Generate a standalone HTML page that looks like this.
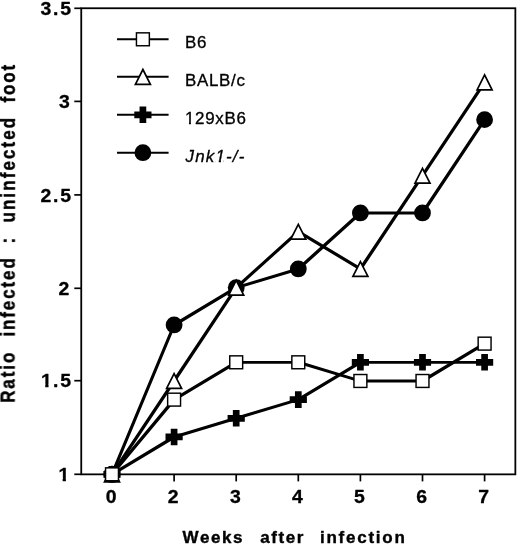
<!DOCTYPE html>
<html lang="en"><head><meta charset="utf-8"><title>Ratio infected : uninfected foot</title>
<style>
html,body{margin:0;padding:0;background:#fff;}
body{width:520px;height:545px;overflow:hidden;}
svg{display:block;will-change:transform;}
text{font-family:"Liberation Sans",sans-serif;fill:#000;stroke:#000;stroke-linejoin:round;}
.t{font-weight:bold;font-size:17.5px;stroke-width:0.3px;}
.l{font-size:16.3px;stroke-width:0.32px;letter-spacing:0.68px;}
.ax{font-weight:bold;font-size:17px;stroke-width:0.4px;letter-spacing:1.55px;}
.ay{font-weight:bold;font-size:17px;stroke-width:0.4px;letter-spacing:1.9px;}
</style></head><body>
<svg width="520" height="545" viewBox="0 0 520 545">
<rect x="0" y="0" width="520" height="545" fill="#fff"/>
<defs>
<clipPath id="c1b"><rect x="-3" y="-22" width="50" height="19.3"/><rect x="3.85" y="-22" width="2.9" height="26"/><rect x="10.8" y="-22" width="40" height="26"/></clipPath>
<clipPath id="c1r"><rect x="-3" y="-22" width="80" height="20.0"/><rect x="3.9" y="-22" width="1.85" height="26"/><rect x="8.8" y="-22" width="70" height="26"/></clipPath>
<clipPath id="c1i"><rect x="-3" y="-22" width="80" height="20.0"/><rect x="-3" y="-22" width="32.1" height="26"/><rect x="31.9" y="-22" width="2.1" height="26"/><rect x="36.6" y="-22" width="40" height="26"/></clipPath>
</defs>
<g opacity="0.999">

<rect x="81.25" y="8.25" width="434.1" height="466.1" fill="none" stroke="#000" stroke-width="1.8"/>
<line x1="74.3" y1="474.3" x2="81.25" y2="474.3" stroke="#000" stroke-width="1.7"/>
<line x1="74.3" y1="380.7" x2="81.25" y2="380.7" stroke="#000" stroke-width="1.7"/>
<line x1="74.3" y1="288.3" x2="81.25" y2="288.3" stroke="#000" stroke-width="1.7"/>
<line x1="74.3" y1="194.9" x2="81.25" y2="194.9" stroke="#000" stroke-width="1.7"/>
<line x1="74.3" y1="101.4" x2="81.25" y2="101.4" stroke="#000" stroke-width="1.7"/>
<line x1="74.3" y1="8.3" x2="81.25" y2="8.3" stroke="#000" stroke-width="1.7"/>
<line x1="112.0" y1="474.3" x2="112.0" y2="481.4" stroke="#000" stroke-width="1.7"/>
<line x1="174.1" y1="474.3" x2="174.1" y2="481.4" stroke="#000" stroke-width="1.7"/>
<line x1="236.2" y1="474.3" x2="236.2" y2="481.4" stroke="#000" stroke-width="1.7"/>
<line x1="298.3" y1="474.3" x2="298.3" y2="481.4" stroke="#000" stroke-width="1.7"/>
<line x1="360.4" y1="474.3" x2="360.4" y2="481.4" stroke="#000" stroke-width="1.7"/>
<line x1="422.5" y1="474.3" x2="422.5" y2="481.4" stroke="#000" stroke-width="1.7"/>
<line x1="484.6" y1="474.3" x2="484.6" y2="481.4" stroke="#000" stroke-width="1.7"/>
<text class="t" transform="translate(58.4,480.9) scale(1.11,1)" x="0" y="0" clip-path="url(#c1b)">1</text>
<text class="t" transform="translate(41.0,387.3) scale(1.11,1)" x="0.00 10.72 17.30" y="0" clip-path="url(#c1b)">1.5</text>
<text class="t" transform="translate(58.4,294.9) scale(1.11,1)" x="0" y="0">2</text>
<text class="t" transform="translate(40.4,201.5) scale(1.11,1)" x="0.00 11.26 17.84" y="0">2.5</text>
<text class="t" transform="translate(58.9,108.0) scale(1.11,1)" x="0" y="0">3</text>
<text class="t" transform="translate(40.4,14.9) scale(1.11,1)" x="0.00 11.26 17.84" y="0">3.5</text>
<text class="t" transform="scale(1.11,1)" x="100.09" y="503.2" text-anchor="middle">0</text>
<text class="t" transform="scale(1.11,1)" x="156.04" y="503.2" text-anchor="middle">2</text>
<text class="t" transform="scale(1.11,1)" x="211.98" y="503.2" text-anchor="middle">3</text>
<text class="t" transform="scale(1.11,1)" x="267.93" y="503.2" text-anchor="middle">4</text>
<text class="t" transform="scale(1.11,1)" x="323.87" y="503.2" text-anchor="middle">5</text>
<text class="t" transform="scale(1.11,1)" x="379.82" y="503.2" text-anchor="middle">6</text>
<text class="t" transform="scale(1.11,1)" x="435.77" y="503.2" text-anchor="middle">7</text>
<text class="ax" y="543.1"><tspan x="182.6">Weeks</tspan> <tspan x="260.3">after</tspan> <tspan x="320.0" style="letter-spacing:1.75px">infection</tspan></text>
<text class="ay" transform="translate(15.25,0) rotate(-89.93) scale(1,1.135)" y="0"><tspan x="-402.8">Ratio</tspan> <tspan x="-336.6">infected</tspan> <tspan x="-243.4">:</tspan> <tspan x="-222.6" style="letter-spacing:2.1px">uninfected</tspan> <tspan x="-102.6">foot</tspan></text>
<line x1="112.0" y1="474.3" x2="174.1" y2="325.0" stroke="#000" stroke-width="3.14" stroke-linecap="round"/>
<line x1="174.1" y1="325.0" x2="236.2" y2="287.6" stroke="#000" stroke-width="3.22" stroke-linecap="round"/>
<line x1="236.2" y1="287.6" x2="298.3" y2="269.0" stroke="#000" stroke-width="3.06" stroke-linecap="round"/>
<line x1="298.3" y1="269.0" x2="360.4" y2="213.0" stroke="#000" stroke-width="3.27" stroke-linecap="round"/>
<line x1="360.4" y1="213.0" x2="422.5" y2="213.0" stroke="#000" stroke-width="2.80" stroke-linecap="round"/>
<line x1="422.5" y1="213.0" x2="484.6" y2="119.6" stroke="#000" stroke-width="3.24" stroke-linecap="round"/>
<circle cx="112.00" cy="474.30" r="8.4" fill="#000"/>
<circle cx="174.10" cy="324.96" r="8.4" fill="#000"/>
<circle cx="236.20" cy="287.63" r="8.4" fill="#000"/>
<circle cx="298.30" cy="268.96" r="8.4" fill="#000"/>
<circle cx="360.40" cy="212.96" r="8.4" fill="#000"/>
<circle cx="422.50" cy="212.96" r="8.4" fill="#000"/>
<circle cx="484.60" cy="119.63" r="8.4" fill="#000"/>
<line x1="112.0" y1="474.3" x2="174.1" y2="437.0" stroke="#000" stroke-width="3.22" stroke-linecap="round"/>
<line x1="174.1" y1="437.0" x2="236.2" y2="418.3" stroke="#000" stroke-width="3.06" stroke-linecap="round"/>
<line x1="236.2" y1="418.3" x2="298.3" y2="399.6" stroke="#000" stroke-width="3.06" stroke-linecap="round"/>
<line x1="298.3" y1="399.6" x2="360.4" y2="362.3" stroke="#000" stroke-width="3.22" stroke-linecap="round"/>
<line x1="360.4" y1="362.3" x2="422.5" y2="362.3" stroke="#000" stroke-width="2.80" stroke-linecap="round"/>
<line x1="422.5" y1="362.3" x2="484.6" y2="362.3" stroke="#000" stroke-width="2.80" stroke-linecap="round"/>
<path d="M103.40,470.95h5.25v-4.95h6.7v4.95h5.25v6.7h-5.25v4.95h-6.7v-4.95h-5.25z" fill="#000"/>
<path d="M165.50,433.62h5.25v-4.95h6.7v4.95h5.25v6.7h-5.25v4.95h-6.7v-4.95h-5.25z" fill="#000"/>
<path d="M227.60,414.95h5.25v-4.95h6.7v4.95h5.25v6.7h-5.25v4.95h-6.7v-4.95h-5.25z" fill="#000"/>
<path d="M289.70,396.28h5.25v-4.95h6.7v4.95h5.25v6.7h-5.25v4.95h-6.7v-4.95h-5.25z" fill="#000"/>
<path d="M351.80,358.95h5.25v-4.95h6.7v4.95h5.25v6.7h-5.25v4.95h-6.7v-4.95h-5.25z" fill="#000"/>
<path d="M413.90,358.95h5.25v-4.95h6.7v4.95h5.25v6.7h-5.25v4.95h-6.7v-4.95h-5.25z" fill="#000"/>
<path d="M476.00,358.95h5.25v-4.95h6.7v4.95h5.25v6.7h-5.25v4.95h-6.7v-4.95h-5.25z" fill="#000"/>
<line x1="112.0" y1="474.3" x2="174.1" y2="381.0" stroke="#000" stroke-width="3.24" stroke-linecap="round"/>
<line x1="174.1" y1="381.0" x2="236.2" y2="287.6" stroke="#000" stroke-width="3.24" stroke-linecap="round"/>
<line x1="236.2" y1="287.6" x2="298.3" y2="231.6" stroke="#000" stroke-width="3.27" stroke-linecap="round"/>
<line x1="298.3" y1="231.6" x2="360.4" y2="269.0" stroke="#000" stroke-width="3.22" stroke-linecap="round"/>
<line x1="360.4" y1="269.0" x2="422.5" y2="175.6" stroke="#000" stroke-width="3.24" stroke-linecap="round"/>
<line x1="422.5" y1="175.6" x2="484.6" y2="82.3" stroke="#000" stroke-width="3.24" stroke-linecap="round"/>
<polygon points="112.00,467.00 119.50,481.80 104.50,481.80" fill="#fff" stroke="#000" stroke-width="1.7" stroke-linejoin="miter"/>
<polygon points="174.10,373.67 181.60,388.47 166.60,388.47" fill="#fff" stroke="#000" stroke-width="1.7" stroke-linejoin="miter"/>
<polygon points="236.20,280.33 243.70,295.13 228.70,295.13" fill="#fff" stroke="#000" stroke-width="1.7" stroke-linejoin="miter"/>
<polygon points="298.30,224.33 305.80,239.13 290.80,239.13" fill="#fff" stroke="#000" stroke-width="1.7" stroke-linejoin="miter"/>
<polygon points="360.40,261.66 367.90,276.46 352.90,276.46" fill="#fff" stroke="#000" stroke-width="1.7" stroke-linejoin="miter"/>
<polygon points="422.50,168.33 430.00,183.13 415.00,183.13" fill="#fff" stroke="#000" stroke-width="1.7" stroke-linejoin="miter"/>
<polygon points="484.60,74.99 492.10,89.79 477.10,89.79" fill="#fff" stroke="#000" stroke-width="1.7" stroke-linejoin="miter"/>
<line x1="112.0" y1="474.3" x2="174.1" y2="399.6" stroke="#000" stroke-width="3.27" stroke-linecap="round"/>
<line x1="174.1" y1="399.6" x2="236.2" y2="362.3" stroke="#000" stroke-width="3.22" stroke-linecap="round"/>
<line x1="236.2" y1="362.3" x2="298.3" y2="362.3" stroke="#000" stroke-width="2.80" stroke-linecap="round"/>
<line x1="298.3" y1="362.3" x2="360.4" y2="381.0" stroke="#000" stroke-width="3.06" stroke-linecap="round"/>
<line x1="360.4" y1="381.0" x2="422.5" y2="381.0" stroke="#000" stroke-width="2.80" stroke-linecap="round"/>
<line x1="422.5" y1="381.0" x2="484.6" y2="343.6" stroke="#000" stroke-width="3.22" stroke-linecap="round"/>
<rect x="105.55" y="467.85" width="12.9" height="12.9" fill="#fff" stroke="#000" stroke-width="1.45"/>
<rect x="167.65" y="393.18" width="12.9" height="12.9" fill="#fff" stroke="#000" stroke-width="1.45"/>
<rect x="229.75" y="355.85" width="12.9" height="12.9" fill="#fff" stroke="#000" stroke-width="1.45"/>
<rect x="291.85" y="355.85" width="12.9" height="12.9" fill="#fff" stroke="#000" stroke-width="1.45"/>
<rect x="353.95" y="374.52" width="12.9" height="12.9" fill="#fff" stroke="#000" stroke-width="1.45"/>
<rect x="416.05" y="374.52" width="12.9" height="12.9" fill="#fff" stroke="#000" stroke-width="1.45"/>
<rect x="478.15" y="337.18" width="12.9" height="12.9" fill="#fff" stroke="#000" stroke-width="1.45"/>
<line x1="117" y1="39.3" x2="168.6" y2="39.3" stroke="#000" stroke-width="2.05"/>
<rect x="136.45" y="32.85" width="12.9" height="12.9" fill="#fff" stroke="#000" stroke-width="1.45"/>
<text class="l" transform="translate(184.9,48.1) scale(1.04,1)" x="0" y="0">B6</text>
<line x1="117" y1="76.8" x2="168.6" y2="76.8" stroke="#000" stroke-width="2.05"/>
<polygon points="142.90,69.50 150.40,84.30 135.40,84.30" fill="#fff" stroke="#000" stroke-width="1.7" stroke-linejoin="miter"/>
<text class="l" transform="translate(184.9,85.6) scale(1.04,1)" x="0" y="0">BALB/c</text>
<line x1="117" y1="114.8" x2="168.6" y2="114.8" stroke="#000" stroke-width="2.05"/>
<path d="M134.30,111.45h5.25v-4.95h6.7v4.95h5.25v6.7h-5.25v4.95h-6.7v-4.95h-5.25z" fill="#000"/>
<text class="l" transform="translate(184.9,123.6) scale(1.04,1)" x="0" y="0" clip-path="url(#c1r)">129xB6</text>
<line x1="117" y1="152.7" x2="168.6" y2="152.7" stroke="#000" stroke-width="2.05"/>
<circle cx="142.90" cy="152.70" r="8.4" fill="#000"/>
<text class="l" transform="translate(185.6,161.8) scale(1.04,1)" x="0" y="0" font-style="italic" style="letter-spacing:1.12px" clip-path="url(#c1i)">Jnk1-/-</text>
</g>
</svg>
</body></html>
